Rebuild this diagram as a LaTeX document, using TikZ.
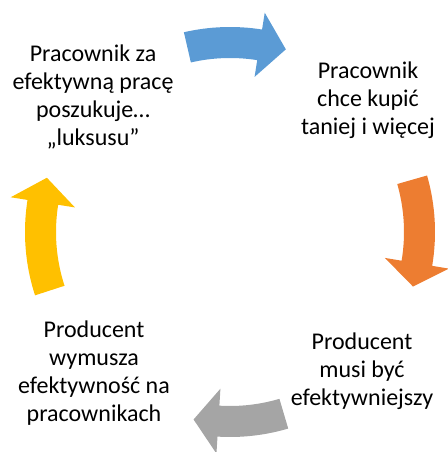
\documentclass[tikz,border=0pt]{standalone}
\usepackage{fontspec}
\setmainfont{Carlito}
\definecolor{cblue}{HTML}{5B9BD5}
\definecolor{corange}{HTML}{ED7D31}
\definecolor{cgray}{HTML}{A5A5A5}
\definecolor{cyellow}{HTML}{FFC000}
\tikzset{
  lbl/.style={align=center, inner sep=0pt, font=\fontsize{24}{27.8}\selectfont, text=black},
}
% cyc arrow: #1 colour, #2 tail angle, #3 head base angle, #4 tip angle
\newcommand{\cycarrow}[4]{%
  \fill[#1] (#2:174pt) arc[start angle=#2, end angle=#3, radius=174pt]
    -- (#3:157pt) -- (#4:191pt) -- (#3:222pt) -- (#3:205pt)
    arc[start angle=#3, end angle=#2, radius=205pt] -- cycle;}
\begin{document}
\begin{tikzpicture}[x=1pt,y=1pt]
\useasboundingbox (0,0) rectangle (447,452);
\begin{scope}[shift={(230,220)}]
  \cycarrow{cblue}{103}{81}{73}
  \cycarrow{corange}{16}{-9.5}{-16.6}
  \cycarrow{cgray}{286.5}{266.5}{259}
  \cycarrow{cyellow}{198}{171}{163.5}
\end{scope}
\node[lbl] (tl) at (93,355) {Pracownik za\\efektywną pracę\\poszukuje…\\„luksusu”};
\node[lbl] (tr) at (368,352) {Pracownik\\chce kupić\\taniej i więcej};
\node[lbl] (bl) at (94,79) {Producent\\wymusza\\efektywność na\\pracownikach};
\node[lbl] (br) at (362,81) {Producent\\musi być\\efektywniejszy};
\end{tikzpicture}
\end{document}
